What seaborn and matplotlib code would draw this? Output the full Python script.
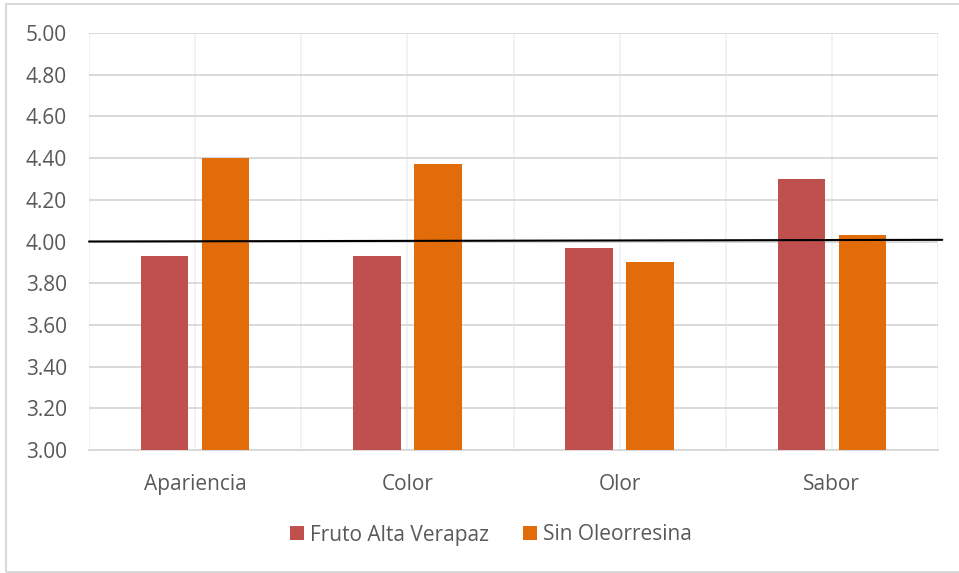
import pandas as pd
import seaborn as sns
import matplotlib.pyplot as plt
from matplotlib.patches import Rectangle
from matplotlib.ticker import FormatStrFormatter, MultipleLocator

categorias = ["Apariencia", "Color", "Olor", "Sabor"]
fruto_alta_verapaz = [3.93, 3.93, 3.97, 4.30]
sin_oleorresina = [4.40, 4.37, 3.90, 4.03]
series = ["Fruto Alta Verapaz", "Sin Oleorresina"]
colores = ["#C0504D", "#E36C0A"]

# linea de referencia (ligeramente inclinada en el original)
linea_x = [-0.5, 3.52]
linea_y = [4.00, 4.008]

df = pd.DataFrame({
    "Atributo": categorias * 2,
    "Valor": fruto_alta_verapaz + sin_oleorresina,
    "Muestra": [series[0]] * 4 + [series[1]] * 4,
})

sns.set_style("white")
plt.rcParams["font.family"] = ["Open Sans", "DejaVu Sans"]

fig = plt.figure(figsize=(9.59, 5.73), dpi=100)
ax = fig.add_axes([89 / 959, 1 - 450 / 573, (938 - 89) / 959, (450 - 33) / 573])

sns.barplot(
    data=df, x="Atributo", y="Valor", hue="Muestra",
    palette=colores, saturation=1, width=0.576, gap=0.222,
    edgecolor="none", ax=ax, legend=True, zorder=3,
)

ax.plot(linea_x, linea_y, color="black", linewidth=1.5, clip_on=False, zorder=4)

ax.set_xlim(-0.5, 3.5)
ax.set_ylim(3.0, 5.0)
ax.yaxis.set_major_locator(MultipleLocator(0.2))
ax.yaxis.set_major_formatter(FormatStrFormatter("%.2f"))
ax.set_xticks([-0.5, 0.5, 1.5, 2.5, 3.5], minor=True)

ax.grid(axis="y", color="#D9D9D9", linewidth=1.4, zorder=0)
ax.grid(axis="x", which="both", color="#EFEFEF", linewidth=1.1, zorder=0)
ax.set_axisbelow(True)

for s in ["top", "right", "left"]:
    ax.spines[s].set_visible(False)
ax.spines["bottom"].set_color("#D9D9D9")
ax.spines["bottom"].set_linewidth(1.4)

ax.tick_params(axis="both", which="both", length=0, labelsize=15, colors="#595959")
ax.tick_params(axis="x", pad=17)
ax.tick_params(axis="y", pad=16)
ax.set_xlabel("")
ax.set_ylabel("")

handles, labels = ax.get_legend_handles_labels()
ax.get_legend().remove()
fig.legend(
    handles, labels, loc="center", bbox_to_anchor=(491 / 959, 1 - 535 / 573),
    ncol=2, frameon=False, fontsize=15, labelcolor="#595959",
    handlelength=0.68, handleheight=0.68, handletextpad=0.3, columnspacing=1.6,
)

# marco del grafico
fig.patches.append(Rectangle(
    (6 / 959, 1 - 572 / 573), 1.0, (572 - 4) / 573,
    transform=fig.transFigure, fill=False, edgecolor="#D9D9D9", linewidth=1.5,
))

plt.savefig("out.png", dpi=100)
